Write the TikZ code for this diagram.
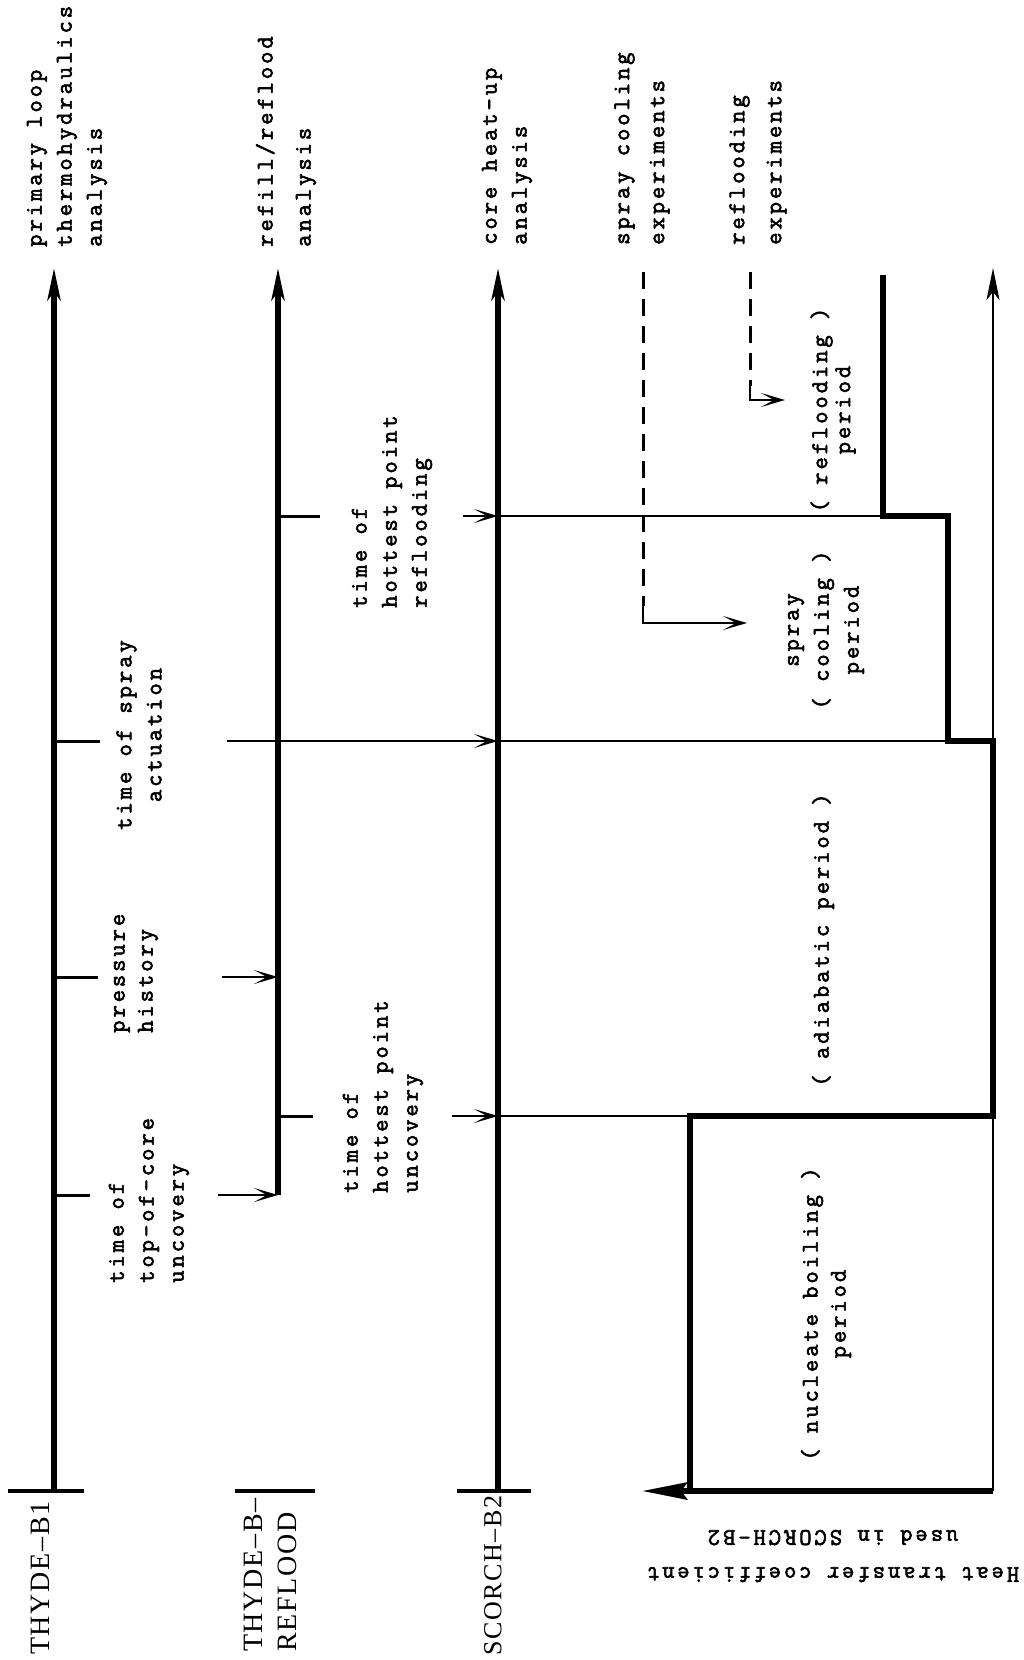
\documentclass[tikz,border=0pt]{standalone}
\usepackage{fontspec}
\setmainfont{Liberation Serif}[LetterSpace=6]
\newfontfamily\typew{Latin Modern Mono}[LetterSpace=12,FakeBold=2.5]
\usetikzlibrary{arrows.meta}
\tikzset{
  ax/.style={line width=5.5pt,-{Stealth[length=32pt,width=13pt,inset=8pt]}},
  thinax/.style={line width=2.5pt,-{Stealth[length=32pt,width=13pt,inset=8pt]}},
  htax/.style={line width=6pt,-{Stealth[length=45pt,width=17pt,inset=6pt]}},
  thinln/.style={line width=2.5pt},
  thickln/.style={line width=6.5pt},
  barln/.style={line width=4pt},
  tickln/.style={line width=3pt},
  feed/.style={line width=2.5pt,-{Stealth[length=24pt,width=14pt,inset=13pt]}},
  dashln/.style={line width=3pt,dash pattern=on 17pt off 10pt},
  lbl/.style={font=\typew\fontsize{24}{30}\selectfont,rotate=90,inner sep=0pt},
  prog/.style={font=\fontsize{28}{34}\selectfont,rotate=90,inner sep=0pt,anchor=west,align=left},
  upside/.style={font=\typew\fontsize{24}{30}\selectfont,rotate=180,inner sep=0pt,align=center},
}
\begin{document}
\begin{tikzpicture}[x=1pt,y=-1pt]
\fill[white] (0,0) rectangle (1024,1660);
\useasboundingbox (0,0) rectangle (1024,1660);
% time levels
\coordinate (yR) at (0,516);
\coordinate (yS) at (0,741);
\coordinate (yP) at (0,977);
\coordinate (yU) at (0,1116);
\coordinate (yT) at (0,1195);
% THYDE-B1 axis
\coordinate (b1bot) at (54,1491);
\coordinate (b1top) at (54,268);
\coordinate (b1barL) at (8,1491);
\coordinate (b1barR) at (84,1491);
\draw[ax] (b1bot) -- (b1top);
\draw[barln] (b1barL) -- (b1barR);
\coordinate (b1tS) at (100,741);
\coordinate (b1tP) at (98,977);
\coordinate (b1tT) at (90,1195);
\draw[tickln] (b1bot|-yS) -- (b1tS);
\draw[tickln] (b1bot|-yP) -- (b1tP);
\draw[tickln] (b1bot|-yT) -- (b1tT);
% THYDE-B-REFLOOD axis
\coordinate (rfbot) at (278,1195);
\coordinate (rftop) at (278,268);
\coordinate (rfbarL) at (235,1491);
\coordinate (rfbarR) at (315,1491);
\draw[ax] (rfbot) -- (rftop);
\draw[barln] (rfbarL) -- (rfbarR);
\coordinate (rftR) at (320,516);
\coordinate (rftU) at (313,1116);
\draw[tickln] (rfbot|-yR) -- (rftR);
\draw[tickln] (rfbot|-yU) -- (rftU);
% SCORCH-B2 axis
\coordinate (scbot) at (498,1491);
\coordinate (sctop) at (498,268);
\coordinate (scbarL) at (457,1491);
\coordinate (scbarR) at (531,1491);
\draw[ax] (scbot) -- (sctop);
\draw[barln] (scbarL) -- (scbarR);
% feeding arrows
\coordinate (fT) at (218,1195);
\coordinate (fP) at (222,977);
\coordinate (fS) at (227,741);
\coordinate (fR) at (463,516);
\coordinate (fU) at (452,1116);
\draw[feed] (fT) -- (rfbot);
\draw[feed] (fP) -- (rfbot|-yP);
\draw[feed] (fS) -- (scbot|-yS);
\draw[feed] (fR) -- (scbot|-yR);
\draw[feed] (fU) -- (scbot|-yU);
% heat transfer coefficient step curve
\coordinate (s0) at (883,275);
\coordinate (s1) at (883,516);
\coordinate (s2) at (948,516);
\coordinate (s3) at (948,741);
\coordinate (s4) at (993,741);
\coordinate (s5) at (993,1116);
\coordinate (s6) at (690,1116);
\coordinate (s7) at (690,1491);
\draw[thinln] (scbot|-yR) -- (s1);
\draw[thinln] (scbot|-yS) -- (s3);
\draw[thinln] (scbot|-yU) -- (s6);
\coordinate (htbot) at (993,1491);
\coordinate (httop) at (993,268);
\coordinate (htend) at (642,1491);
\draw[thinax] (htbot) -- (httop);
\draw[thickln] (s0) -- (s1) -- (s2) -- (s3) -- (s4) -- (s5) -- (s6) -- (s7);
\draw[htax] (htbot) -- (htend);
% experiments (dashed)
\coordinate (d1a) at (643,272);
\coordinate (d1m) at (643,606);
\coordinate (d1b) at (643,623);
\coordinate (d1c) at (747,623);
\draw[dashln] (d1a) -- (d1m);
\draw[feed] (d1m) -- (d1b) -- (d1c);
\coordinate (d2a) at (750,272);
\coordinate (d2m) at (750,386);
\coordinate (d2b) at (750,400);
\coordinate (d2c) at (785,400);
\draw[dashln] (d2a) -- (d2m);
\draw[feed] (d2m) -- (d2b) -- (d2c);
% top labels
\node[lbl,anchor=west,align=left] (L1) at (67,247) {primary loop\\thermohydraulics\\analysis};
\node[lbl,anchor=west,align=left] (L2) at (286,247) {refill/reflood\\[8pt]analysis};
\node[lbl,anchor=west,align=left] (L3) at (507,245) {core heat-up\\analysis};
\node[lbl,anchor=west,align=left] (L4) at (642,245) {spray cooling\\[5pt]experiments};
\node[lbl,anchor=west,align=left] (L5) at (758,245) {reflooding\\[7pt]experiments};
% left labels
\node[lbl,align=center] (L6) at (139,735) {time of spray\\actuation};
\node[lbl,anchor=west,align=left] (L7) at (136,1033) {pressure\\[-2pt]history};
\node[lbl,anchor=west,align=left] (L8) at (149,1283) {time of\\top-of-core\\uncovery};
\node[lbl,anchor=west,align=left] (L9) at (383,1193) {time of\\hottest point\\uncovery};
\node[lbl,anchor=west,align=left] (L10) at (392,608) {time of\\hottest point\\reflooding};
% period labels
\node[lbl,align=center] (L11) at (833,410) {( reflooding )\\[-7pt]period};
\node[lbl,align=center] (L12) at (826,630) {spray\\( cooling )\\period};
\node[lbl,align=center] (L13) at (823,940) {( adiabatic period )};
\node[lbl,align=center] (L14) at (826,1314) {( nucleate boiling )\\[-2pt]period};
% program labels
\node[prog] (P1) at (40,1655) {THYDE–B1};
\node[prog] (P2) at (270,1652) {THYDE–B–\\REFLOOD};
\node[prog] (P3) at (493,1656) {\fontsize{26}{30}\selectfont SCORCH–B2};
% heat transfer coefficient label
\node[upside] (H) at (833,1556) {Heat transfer coefficient\\[7pt]used in SCORCH-B2};
\end{tikzpicture}
\end{document}
